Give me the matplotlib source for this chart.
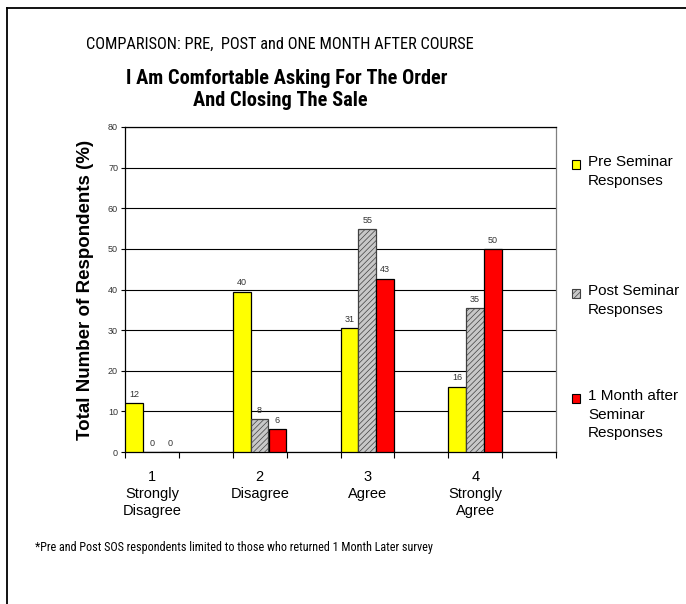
import matplotlib
matplotlib.use("Agg")
import matplotlib.pyplot as plt
from matplotlib.lines import Line2D
import numpy as np

categories = ["1\nStrongly\nDisagree", "2\nDisagree", "3\nAgree", "4\nStrongly\nAgree"]
pre = [12.1, 39.5, 30.6, 16.1]
post = [0, 8.1, 54.8, 35.5]
month = [0, 5.7, 42.7, 50.0]
labels_pre = ["12", "40", "31", "16"]
labels_post = ["0", "8", "55", "35"]
labels_month = ["0", "6", "43", "50"]
series_names = ["Pre Seminar\nResponses", "Post Seminar\nResponses", "1 Month after\nSeminar\nResponses"]

plt.rcParams['hatch.color'] = "#404040"
plt.rcParams['hatch.linewidth'] = 0.5

W, H = 686, 604
fig = plt.figure(figsize=(W / 100, H / 100), dpi=100)
SANS = ["Liberation Sans", "DejaVu Sans"]
NARROW = ["Roboto Condensed", "Liberation Sans", "DejaVu Sans"]

ax = fig.add_axes([125 / W, 1 - 452 / H, (556 - 125) / W, (452 - 127) / H])

n = len(categories)
bw = 0.33
base = np.arange(n) * 2
series = [(pre, labels_pre, dict(facecolor="#ffff00", edgecolor="black")),
          (post, labels_post, dict(facecolor="#c8c8c8", edgecolor="#404040", hatch="//////")),
          (month, labels_month, dict(facecolor="#ff0000", edgecolor="black"))]
for k, (vals, labs, style) in enumerate(series):
    xs = base + bw / 2 + k * (1.0 / 3)
    bars = ax.bar(xs, vals, width=bw, linewidth=0.9, zorder=3, **style)
    for b, lab in zip(bars, labs):
        ax.annotate(lab, (b.get_x() + b.get_width() / 2, b.get_height()),
                    xytext=(0, 3), textcoords="offset points", ha="center", va="bottom",
                    fontsize=6.5, color="#333333", family=SANS)

ax.set_xlim(0, 2 * n)
ax.set_ylim(0, 80)
ax.set_yticks(np.arange(0, 81, 10))
ax.set_yticklabels([str(v) for v in range(0, 81, 10)], fontsize=6.5, family=SANS, color="#333333")
ax.set_xticks(np.arange(0, 2 * n + 1, 1))
ax.set_xticklabels([])
ax.tick_params(axis="x", length=4, width=0.8, direction="out")
ax.tick_params(axis="y", length=3, width=0.8, direction="out", pad=2)
ax.yaxis.grid(True, color="black", linewidth=0.8, zorder=0)
ax.set_axisbelow(True)
for s in ["left", "bottom", "top"]:
    ax.spines[s].set_color("black")
    ax.spines[s].set_linewidth(0.9)
ax.spines["right"].set_color("#808080")
ax.spines["right"].set_linewidth(0.9)

for i, cat in enumerate(categories):
    ax.text(base[i] + 0.5, -4.5, cat, ha="center", va="top", fontsize=10.5,
            family=SANS, linespacing=1.25)

ax.set_ylabel("Total Number of Respondents (%)", fontsize=13.5, fontweight="bold",
              family=SANS, labelpad=10)

fig.text(280 / W, 1 - 44 / H, "COMPARISON: PRE,  POST and ONE MONTH AFTER COURSE",
         ha="center", va="center", fontsize=11.8, family=NARROW)
fig.text(287 / W, 1 - 79 / H, "I Am Comfortable Asking For The Order",
         ha="center", va="center", fontsize=14.7, fontweight="bold", family=NARROW)
fig.text(280 / W, 1 - 101 / H, "And Closing The Sale",
         ha="center", va="center", fontsize=14.7, fontweight="bold", family=NARROW)

fig.text(35 / W, 1 - 547 / H,
         "*Pre and Post SOS respondents limited to those who returned 1 Month Later survey",
         ha="left", va="center", fontsize=8.7, family=NARROW)

# legend drawn manually
leg_y = [164, 293, 398]
styles = [series[0][2], series[1][2], series[2][2]]
for yy, name, st in zip(leg_y, series_names, styles):
    fig.patches.append(plt.Rectangle((572 / W, 1 - (yy + 5) / H), 8 / W, 9 / H,
                                     transform=fig.transFigure, linewidth=0.8, **st))
    fig.text(588 / W, 1 - (yy - 9) / H, name, ha="left", va="top", fontsize=11,
             family=SANS, linespacing=1.42)

# figure frame
fig.add_artist(Line2D([7 / W, 7 / W], [0, 1 - 8 / H], transform=fig.transFigure,
                      color="black", linewidth=1.3))
fig.add_artist(Line2D([7 / W, 1], [1 - 8 / H, 1 - 8 / H], transform=fig.transFigure,
                      color="black", linewidth=1.3))

fig.savefig("out.png", dpi=100)
